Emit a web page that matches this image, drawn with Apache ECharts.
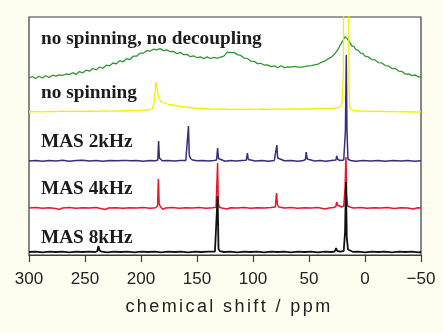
<!DOCTYPE html>
<html><head><meta charset="utf-8">
<script src="https://cdn.jsdelivr.net/npm/echarts@6/dist/echarts.min.js"></script>
<style>html,body{margin:0;padding:0;background:#fefef0;}#c{width:443px;height:333px;}</style>
</head><body><div id="c"></div>
<script>
// Spectrum labels (top to bottom)
const spectrumNames = ['no spinning, no decoupling', 'no spinning', 'MAS 2kHz', 'MAS 4kHz', 'MAS 8kHz'];
// x-axis tick values (ppm)
const tickValues = [300, 250, 200, 150, 100, 50, 0, -50];
const axisTitle = 'chemical shift / ppm';

// Intensities [ppm, intensity above own baseline]
const greenNoSpinNoDec = [[300,1],[297,2.5],[294,0.5],[291,2.8],[288,1],[285,3.3],[282,1.5],[279,3.8],[276,2.8],[273,4.2],[270,3.6],[267,5],[264,4.4],[261,6.3],[258,4.6],[255,7.4],[252,6.2],[249,8.8],[246,7.8],[243,10.5],[240,9.2],[237,12],[234,10.8],[231,13.8],[228,13.2],[225,16],[222,15.2],[219,18.4],[216,17.2],[213,20.3],[210,19.3],[207,22.8],[204,22.8],[201,25.8],[198,25.8],[195,28.3],[192,27.8],[189,29.8],[186,29.2],[183,30.4],[180,28.4],[177,29.1],[174,27.3],[171,27.6],[168,25.3],[165,26.6],[162,24.3],[159,24.6],[156,22.3],[153,23.2],[150,21.3],[147,22.2],[144,20.4],[141,22.1],[138,20.5],[135,21.6],[132,20.8],[129,21.8],[126,22.8],[123,26.8],[120,26.4],[117,26.6],[114,24.4],[111,23.6],[108,20.9],[105,20.6],[102,17.9],[99,17.6],[96,15.4],[93,15.7],[90,13.8],[87,14.1],[84,12.4],[81,13.1],[78,11.3],[75,13.2],[72,11.4],[69,12.1],[66,11.9],[63,12.6],[60,11.9],[57,11.8],[54,12.3],[51,13.2],[48,13.3],[45,14.2],[42,14.8],[39,16.7],[36,17.8],[33,20.2],[30,21.9],[27,25.2],[24,29.8],[22,34.2],[20,37.9],[18,42.2],[17,43],[16,40.5],[14,37.7],[12,33.4],[10,32.6],[8,29.4],[6,28.6],[4,25.9],[2,25.6],[0,22.9],[-3,22.1],[-6,19.4],[-9,19.1],[-12,16.4],[-15,16.1],[-18,13.4],[-21,13.1],[-24,10.4],[-27,10.6],[-30,7.9],[-33,7.6],[-36,4.9],[-39,5.1],[-42,3.4],[-45,4],[-48,1.9],[-50,2.4]];

const yellowNoSpin = [[300,0],[294,0.6],[288,0.2],[282,0.7],[276,0.3],[270,0.8],[264,0.4],[258,0.9],[252,0.5],[246,1],[240,0.6],[234,1],[228,0.8],[222,1.2],[216,1],[210,1.5],[204,1.3],[198,1.8],[193,2],[190,3],[188.5,8],[187.5,20],[186.7,30],[186,27],[185,19],[184,14],[182.5,11],[180.5,9.5],[178,8.5],[175,7.5],[172,7],[169,6.5],[165,5.5],[161,5],[157,4.5],[153,4],[149,3.5],[144,3.5],[139,3],[133,2.8],[127,3],[121,2.5],[115,2.8],[109,2.5],[103,2.8],[97,2.5],[91,3],[85,2.7],[79,3],[73,2.8],[67,3.2],[61,3],[55,3.2],[49,3],[43,3.3],[37,3.5],[31,3.5],[27,4],[24,4.5],[22,5.5],[20.5,9],[19.4,35],[19,120],[18.5,400],[16.8,600],[15.2,400],[14.7,120],[14.2,20],[13.5,5],[12.5,2.5],[10,1.5],[5,1],[0,0.8],[-6,0.5],[-12,0.8],[-18,0.3],[-24,0.6],[-30,0.2],[-36,0.5],[-42,0],[-50,0.2]];

const purpleMAS2 = [[300,0],[294,0.6],[288,-0.3],[282,0.5],[276,0],[270,0.7],[264,-0.2],[258,0.4],[252,0.8],[246,0],[240,0.5],[234,-0.3],[228,0.6],[222,0.2],[216,0.5],[212,0.6],[210.5,2.5],[209.5,0.3],[204,0.5],[198,-0.2],[192,0.5],[187,0.3],[185,1],[184.3,20],[183.6,3],[182.5,1],[181,0.2],[176,0.5],[170,0],[165,0.6],[160,0.5],[158.5,2],[157.6,35],[156.9,6],[155.8,2.5],[154,1],[150,0.2],[145,0.6],[140,0],[135,0.5],[132.5,1],[131.6,13],[130.8,2.5],[129.5,0.8],[125,-0.2],[120,0.5],[115,0],[110,0.6],[106,0.8],[105,8],[104.2,1.5],[103,0.5],[98,0],[92,0.5],[86,-0.2],[81,0.5],[79.4,1.5],[78.7,16],[78,3],[77,1],[72,0.3],[66,0.6],[60,-0.2],[55,0.5],[53.2,1.5],[52.5,9],[51.6,2],[50.5,0.6],[45,0],[40,0.5],[35,-0.2],[30,0.6],[26,1],[25.2,5],[24.3,1.5],[22,0.5],[19,1],[17.5,30],[16.7,106],[16.1,30],[15.2,2],[13,0.5],[8,-0.3],[2,0.5],[-5,0],[-12,0.6],[-18,-0.2],[-25,0.5],[-32,0],[-38,0.6],[-44,-0.2],[-50,0.3]];

const redMAS4 = [[300,0],[294,0.4],[288,-0.3],[282,0.3],[276,-0.5],[273,-1.5],[270,0],[264,0.4],[258,-0.3],[252,0.3],[246,0],[240,0.4],[236,-0.5],[232,-1.5],[229,0],[222,0.3],[216,-0.3],[210,0.3],[204,0],[198,0.4],[192,-0.3],[187,0.3],[185.2,2],[184.5,29],[183.8,4],[182.5,1],[180.5,-1.2],[178,0],[172,0.4],[166,-0.3],[160,0.3],[154,0],[148,0.4],[142,-0.3],[136,0.3],[133,0.8],[131.6,45],[131,5],[130,1],[128,0],[123,-1],[120,0.3],[114,0],[108,0.4],[102,-0.3],[96,0.3],[90,0],[84,0.4],[80,1],[79,15],[78.2,3.5],[77,1],[72,0],[66,0.4],[60,-0.3],[54,0.3],[48,0],[42,0.4],[36,-1],[32,0],[28,0.5],[26,1.5],[25.3,6],[24.5,3],[23.5,1.5],[21,1],[19,2],[17.8,20],[17.0,51],[16.4,15],[15.5,2],[14.2,3],[13,0.8],[10,0],[4,0.4],[-2,-0.3],[-8,0.3],[-14,0],[-20,0.4],[-26,-0.5],[-32,0.3],[-38,0],[-43,-1],[-47,0.3],[-50,0]];

const blackMAS8 = [[300,0],[294,0.3],[288,-0.3],[282,0.3],[276,0],[270,0.4],[264,-0.3],[258,0.3],[252,0],[246,0.4],[241,0],[239,0.8],[238,6],[237,1.5],[235,0.3],[230,-0.3],[224,0.3],[218,0],[212,0.4],[206,-0.3],[200,0.3],[194,0],[188,0.4],[182,-0.3],[176,0.3],[170,0],[164,0.4],[158,-0.3],[152,0.3],[146,0],[140,0.4],[134,0.3],[132.5,1.5],[131.6,56],[130.8,3],[129.5,0.8],[126,0],[120,0.4],[114,-0.3],[108,0.3],[102,0],[96,0.4],[90,-0.3],[84,0.3],[78,0],[72,0.4],[66,-0.3],[60,0.3],[54,0],[48,0.4],[42,-0.3],[36,0.3],[30,0],[27,0.5],[25.8,4],[24.8,1],[22,0.3],[19,1],[17.8,20],[17.0,70],[16.3,15],[15.2,2.5],[14,1],[11,0.2],[6,0.4],[0,-0.3],[-6,0.3],[-12,0],[-18,0.4],[-24,-0.3],[-30,0.3],[-36,0],[-42,0.4],[-48,-0.3],[-50,0]];

// Layout / style (not data)
const traces = [
  {data: greenNoSpinNoDec, offset: 176, color: '#2f962f', width: 1.3},
  {data: yellowNoSpin, offset: 143, color: '#f2f000', width: 1.3},
  {data: purpleMAS2, offset: 94, color: '#3b2c7e', width: 1.5},
  {data: redMAS4, offset: 47, color: '#e3182b', width: 1.5},
  {data: blackMAS8, offset: 3, color: '#111111', width: 1.8}
];
const labelY = [39, 93.5, 142, 189.5, 238];

// letter-spacing only for the axis title, isolated with save/restore
const _fillText = CanvasRenderingContext2D.prototype.fillText;
CanvasRenderingContext2D.prototype.fillText = function (txt, x, y, mw) {
  if (txt === axisTitle && 'letterSpacing' in this) {
    this.save();
    this.letterSpacing = '2.4px';
    _fillText.call(this, txt, x, y);
    this.restore();
    return;
  }
  return mw === undefined ? _fillText.call(this, txt, x, y) : _fillText.call(this, txt, x, y, mw);
};

const chart = echarts.init(document.getElementById('c'), null, {renderer: 'canvas'});
chart.setOption({
  animation: false,
  backgroundColor: '#fefef0',
  grid: {left: 29, right: 22, top: 17, bottom: 78, show: true, backgroundColor: '#ffffff', borderColor: '#3a3a3a', borderWidth: 1.2},
  xAxis: {
    type: 'value', min: -50, max: 300, interval: 50, inverse: true,
    axisLine: {show: true, onZero: false, lineStyle: {color: '#3a3a3a', width: 1.2}},
    axisTick: {show: true, inside: false, length: 7, lineStyle: {color: '#3a3a3a', width: 1.2}},
    splitLine: {show: false},
    axisLabel: {margin: 16, fontFamily: 'Liberation Sans', fontSize: 17, color: '#222',
      formatter: v => tickValues.includes(v) ? String(v).replace('-', '\u2212') : ''},
    name: axisTitle, nameLocation: 'middle', nameGap: 43,
    nameTextStyle: {fontFamily: 'Liberation Sans', fontSize: 18, color: '#222', padding: [0, 0, 0, 8]}
  },
  yAxis: {type: 'value', min: 0, max: 238, show: false},
  graphic: spectrumNames.map((t, i) => ({
    type: 'text', x: 41, y: labelY[i], z: 100,
    style: {text: t, fill: '#1c1c1c', font: 'bold 19.3px "Liberation Serif"', verticalAlign: 'middle', align: 'left'}
  })),
  series: traces.map(tr => ({
    type: 'line', showSymbol: false, clip: true, smooth: false,
    lineStyle: {color: tr.color, width: tr.width},
    data: tr.data.map(p => [p[0], p[1] + tr.offset])
  }))
});
</script></body></html>
